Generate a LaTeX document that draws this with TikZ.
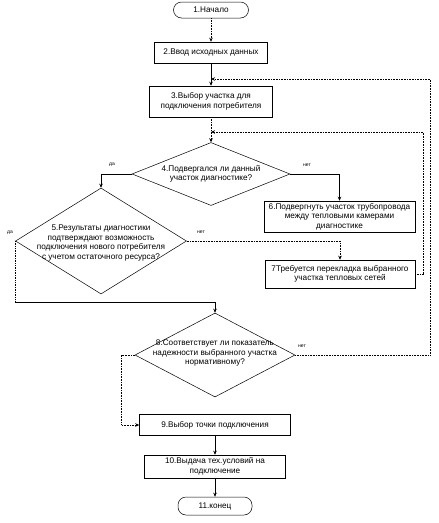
\documentclass[tikz,border=0pt]{standalone}
\usepackage{fontspec}
\setmainfont{Liberation Sans}
\usetikzlibrary{shapes.geometric,arrows.meta}

\begin{document}
\begin{tikzpicture}[x=1pt, y=-1pt,
    font=\fontsize{8.2}{9.6}\selectfont,
    blok/.style={draw, line width=0.5pt, inner sep=0pt, align=center},
    term/.style={blok, rounded corners=8pt},
    vopros/.style={draw, diamond, line width=0.5pt, inner sep=0pt},
    metka/.style={font=\fontsize{5}{6}\selectfont, inner sep=0pt},
    strelka/.style={line width=0.6pt, -{Stealth[length=4pt, width=3.5pt]}},
    punktir/.style={densely dotted, line width=0.7pt}]
    \useasboundingbox (0,0) rectangle (439,523);

    % начало и первые блоки
    \node[term, minimum width=75pt, minimum height=16pt] (n1) at (211,10) {1.Начало};
    \node[blok, minimum width=113pt, minimum height=21pt] (n2) at (211,52.5) {2.Ввод исходных данных};
    \node[blok, minimum width=123pt, minimum height=31pt] (n3) at (211,101.5) {3.Выбор участка для\\подключения потребителя};

    % проверка диагностики
    \node[vopros, minimum width=158pt, minimum height=63pt] (d4) at (211,174) {};
    \node[align=center] (t4) at (d4) {4.Подвергался ли данный\\участок диагностике?};
    \node[vopros, minimum width=171pt, minimum height=106pt] (d5) at (101,241) {};
    \node[align=center] (t5) at (101,243) {5.Результаты диагностики\\подтверждают возможность\\подключения нового потребителя\\с учетом остаточного ресурса?};

    % правая ветка
    \node[blok, minimum width=151pt, minimum height=31pt] (n6) at (339.5,216.5) {6.Подвергнуть участок трубопровода\\между тепловыми камерами\\диагностике};
    \node[blok, minimum width=150pt, minimum height=28pt] (n7) at (340,274) {7Требуется перекладка выбранного\\участка тепловых сетей};

    % надежность и выдача условий
    \node[vopros, minimum width=160pt, minimum height=84pt] (d8) at (215,355) {};
    \node[align=center] (t8) at (215,353) {8.Соответствует ли показатель\\надежности выбранного участка\\нормативному?};
    \node[blok, minimum width=151pt, minimum height=21pt] (n9) at (215,425) {9.Выбор точки подключения};
    \node[blok, minimum width=141pt, minimum height=23pt] (n10) at (215,466.5) {10.Выдача тех.условий на\\подключение};
    \node[term, minimum width=74pt, minimum height=18pt] (n11) at (215,506) {11.конец};

    % точки слияния
    \coordinate (j23) at (211,79);
    \coordinate (j34) at (211,132);
    \coordinate (j58) at (215,302);

    % подписи да/нет
    \node[metka] (l4da) at (112,165) {да};
    \node[metka] (l4net) at (307,165) {нет};
    \node[metka] (l5da) at (10,233) {да};
    \node[metka] (l5net) at (201,232) {нет};
    \node[metka] (l8net) at (302,346) {нет};

    % связи
    \draw[punktir, strelka] (n1) -- (n2);
    \draw[strelka] (n2) -- (n3);
    \draw[punktir, strelka] (n3) -- (d4);
    \draw[strelka] (d4.west) -| (d5.north);
    \draw[strelka] (d4.east) -| (n6.north);
    \draw[punktir, strelka] (d5.east) -| (n7.north);
    \draw[punktir, strelka] (n7.east) -- ++(8,0) |- (j34);
    \draw[punktir] (d5.west) -- (d5.west |- j58);
    \draw[strelka] (d5.west |- j58) -- (j58) -- (d8.north);
    \draw[punktir, strelka] (d8.west) -- ++(-13,0) |- (n9.west);
    \draw[punktir, strelka] (d8.east) -- ++(135,0) |- (j23);
    \draw[strelka] (n9) -- (n10);
    \draw[strelka] (n10) -- (n11);
\end{tikzpicture}
\end{document}
